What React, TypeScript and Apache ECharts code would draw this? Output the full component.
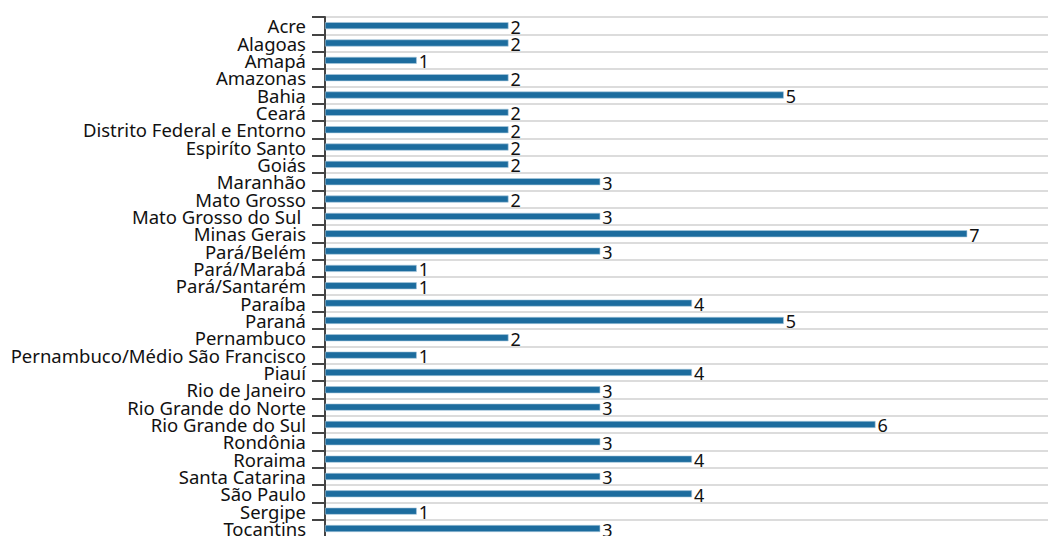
import React, { useEffect, useRef } from "react";
import * as echarts from "echarts";

const categories: string[] = [
  "Acre",
  "Alagoas",
  "Amapá",
  "Amazonas",
  "Bahia",
  "Ceará",
  "Distrito Federal e Entorno",
  "Espiríto Santo",
  "Goiás",
  "Maranhão",
  "Mato Grosso",
  "Mato Grosso do Sul ",
  "Minas Gerais",
  "Pará/Belém",
  "Pará/Marabá",
  "Pará/Santarém",
  "Paraíba",
  "Paraná",
  "Pernambuco",
  "Pernambuco/Médio São Francisco",
  "Piauí",
  "Rio de Janeiro",
  "Rio Grande do Norte",
  "Rio Grande do Sul",
  "Rondônia",
  "Roraima",
  "Santa Catarina",
  "São Paulo",
  "Sergipe",
  "Tocantins",
];

const values: number[] = [
  2, 2, 1, 2, 5, 2, 2, 2, 2, 3, 2, 3, 7, 3, 1, 1, 4, 5, 2, 1, 4, 3, 3, 6, 3, 4, 3, 4, 1, 3,
];

const FONT = "'Noto Sans', 'Open Sans', sans-serif";

export default function App() {
  const ref = useRef<HTMLDivElement>(null);

  useEffect(() => {
    if (!ref.current) return;
    const chart = echarts.init(ref.current, undefined, { renderer: "svg" });
    chart.setOption({
      animation: false,
      backgroundColor: "#ffffff",
      grid: { left: 325, right: 0, top: 17, bottom: 2.7, containLabel: false },
      xAxis: {
        type: "value",
        min: 0,
        max: 7.88,
        axisLine: { show: false },
        axisTick: { show: false },
        axisLabel: { show: false },
        splitLine: { show: false },
      },
      yAxis: {
        type: "category",
        data: categories,
        inverse: true,
        axisLine: { show: true, lineStyle: { color: "#444444", width: 2 } },
        axisTick: {
          show: true,
          interval: 0,
          length: 13,
          lineStyle: { color: "#444444", width: 2 },
        },
        axisLabel: {
          interval: 0,
          color: "#111111",
          fontFamily: FONT,
          fontSize: 18.5,
          margin: 19,
          lineHeight: 18,
          padding: [0, 0, 5, 0],
        },
        splitLine: {
          show: true,
          interval: 0,
          lineStyle: { color: "#dcdcdc", width: 2 },
        },
      },
      series: [
        {
          type: "bar",
          data: values,
          barWidth: 7,
          itemStyle: {
            color: "#1c6c9e",
            borderColor: "#a9c9dd",
            borderWidth: 0.6,
          },
          label: {
            show: true,
            position: "right",
            distance: 2,
            color: "#111111",
            fontFamily: FONT,
            fontSize: 18,
            offset: [0, 1],
          },
        },
      ],
    });
    return () => chart.dispose();
  }, []);

  // The plot runs a few pixels past the bottom edge and is clipped there.
  return (
    <div
      style={{
        position: "absolute",
        left: 0,
        top: 0,
        width: 1048,
        height: 536,
        overflow: "hidden",
      }}
    >
      <div ref={ref} style={{ width: 1048, height: 540 }} />
    </div>
  );
}
